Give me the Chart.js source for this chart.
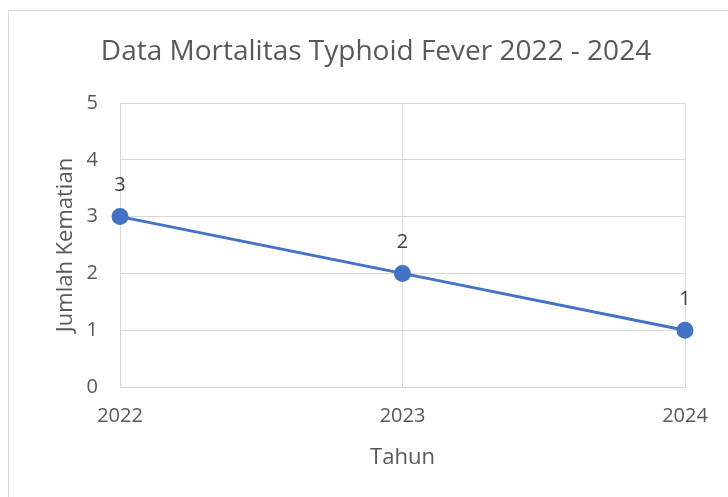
<!DOCTYPE html>
<html>
<head>
<meta charset="utf-8">
<script src="https://cdn.jsdelivr.net/npm/chart.js@4"></script>
<style>
    html, body { margin: 0; padding: 0; background: #ffffff; }
    .frame {
        position: relative;
        width: 728px;
        height: 497px;
        overflow: hidden;
    }
    .frame .border {
        position: absolute;
        left: 8px;
        top: 10px;
        width: 740px;
        height: 500px;
        border: 1px solid #d9d9d9;
    }
    canvas { position: absolute; left: 0; top: 0; }
</style>
</head>
<body>
<div class="frame">
    <div class="border"></div>
    <canvas id="lineChart" width="728" height="497"></canvas>
</div>
<script>
// chart data
const years = ['2022', '2023', '2024'];
const deaths = [3, 2, 1];
const yTicks = [0, 1, 2, 3, 4, 5];
const chartTitle = 'Data Mortalitas Typhoid Fever 2022 - 2024';

const FONT = "'Open Sans', sans-serif";
const TEXT = '#595959';

// title centred on the whole frame, and the value above each point
const annotations = {
    id: 'annotations',
    afterDraw(chart) {
        const ctx = chart.ctx;
        ctx.save();
        ctx.font = '28px ' + FONT;
        ctx.fillStyle = TEXT;
        ctx.textAlign = 'center';
        ctx.textBaseline = 'middle';
        ctx.fillText(chartTitle, 376, 52);

        const meta = chart.getDatasetMeta(0);
        ctx.font = '20px ' + FONT;
        ctx.fillStyle = '#404040';
        meta.data.forEach((pt, i) => {
            ctx.fillText(String(deaths[i]), pt.x, pt.y - 31);
        });
        ctx.restore();
    }
};

const ctx = document.getElementById('lineChart').getContext('2d');
new Chart(ctx, {
    type: 'line',
    data: {
        labels: years,
        datasets: [{
            data: deaths,
            borderColor: '#4472c4',
            backgroundColor: '#4472c4',
            borderWidth: 3,
            pointRadius: 7,
            pointHoverRadius: 7,
            tension: 0
        }]
    },
    options: {
        responsive: false,
        animation: false,
        layout: { padding: { left: 0, right: 43, top: 103, bottom: 0 } },
        plugins: {
            legend: { display: false },
            tooltip: { enabled: false },
            title: { display: false }
        },
        scales: {
            x: {
                offset: false,
                grid: { color: '#d9d9d9', drawTicks: false },
                border: { color: '#d9d9d9' },
                ticks: { color: TEXT, font: { family: FONT, size: 20 }, padding: 17, maxRotation: 0 },
                title: {
                    display: true,
                    text: 'Tahun',
                    color: TEXT,
                    font: { family: FONT, size: 22 },
                    padding: { top: 0, bottom: 26 }
                },
                afterFit(scale) { scale.height = 110; }
            },
            y: {
                min: 0,
                max: 5,
                afterBuildTicks(scale) { scale.ticks = yTicks.map(v => ({ value: v })); },
                grid: { color: '#d9d9d9', drawTicks: false },
                border: { color: '#d9d9d9' },
                ticks: { color: TEXT, font: { family: FONT, size: 20 }, padding: 22 },
                title: {
                    display: true,
                    text: 'Jumlah Kematian',
                    color: TEXT,
                    font: { family: FONT, size: 22 },
                    padding: { top: 53, bottom: 0 }
                },
                afterFit(scale) { scale.width = 120; }
            }
        }
    },
    plugins: [annotations]
});
</script>
</body>
</html>
